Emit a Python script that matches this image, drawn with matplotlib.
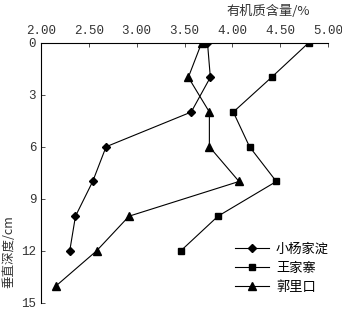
import matplotlib.pyplot as plt

plt.rcParams['font.family'] = ['Liberation Mono', 'Noto Sans CJK SC']

# 数据
depth_a = [0, 2, 4, 6, 8, 10, 12]
xyjd = [3.74, 3.77, 3.57, 2.68, 2.54, 2.36, 2.30]
depth_b = [0, 2, 4, 6, 8, 10, 12]
wjz = [4.80, 4.41, 4.01, 4.18, 4.46, 3.85, 3.46]
depth_c = [0, 2, 4, 6, 8, 10, 12, 14]
glk = [3.68, 3.54, 3.76, 3.76, 4.07, 2.92, 2.58, 2.16]
names = ['小杨家淀', '王家寨', '郭里口']
xticks = [2.0, 2.5, 3.0, 3.5, 4.0, 4.5, 5.0]
yticks = [0, 3, 6, 9, 12, 15]

fig = plt.figure(figsize=(3.42, 3.10), dpi=100)
ax = fig.add_axes([0.120, 0.0226, 0.839, 0.840])

ax.plot(xyjd, depth_a, 'k-', marker='D', ms=4.5, lw=0.8, label=names[0])
ax.plot(wjz, depth_b, 'k-', marker='s', ms=5, lw=0.8, label=names[1])
ax.plot(glk, depth_c, 'k-', marker='^', ms=5.5, lw=0.8, label=names[2])

ax.set_xlim(2.0, 5.0)
ax.set_ylim(15, 0)
ax.xaxis.tick_top()
ax.set_xticks(xticks)
ax.set_xticklabels([f'{v:.2f}' for v in xticks])
ax.set_yticks(yticks)
ax.tick_params(direction='in', length=3, width=0.6, labelsize=9, colors='#333333')
ax.tick_params(axis='x', pad=4)
ax.spines['right'].set_visible(False)
ax.spines['bottom'].set_visible(False)
ax.spines['top'].set_linewidth(0.8)
ax.spines['left'].set_linewidth(0.8)

fig.text(0.905, 0.962, '有机质含量/%', ha='right', va='center', fontsize=9.5,
         family=['Noto Sans CJK SC'], color='#333333')
fig.text(0.025, 0.187, '垂直深度/cm', rotation=90, ha='center', va='center',
         fontsize=9, family=['Noto Sans CJK SC', 'Liberation Serif'], color='#333333')

leg = ax.legend(loc='lower right', bbox_to_anchor=(1.045, -0.01), frameon=False,
                prop={'family': 'Noto Sans CJK SC', 'size': 9.5},
                handlelength=2.6, handletextpad=0.5, labelspacing=0.45)

fig.savefig('out.png', dpi=100)
